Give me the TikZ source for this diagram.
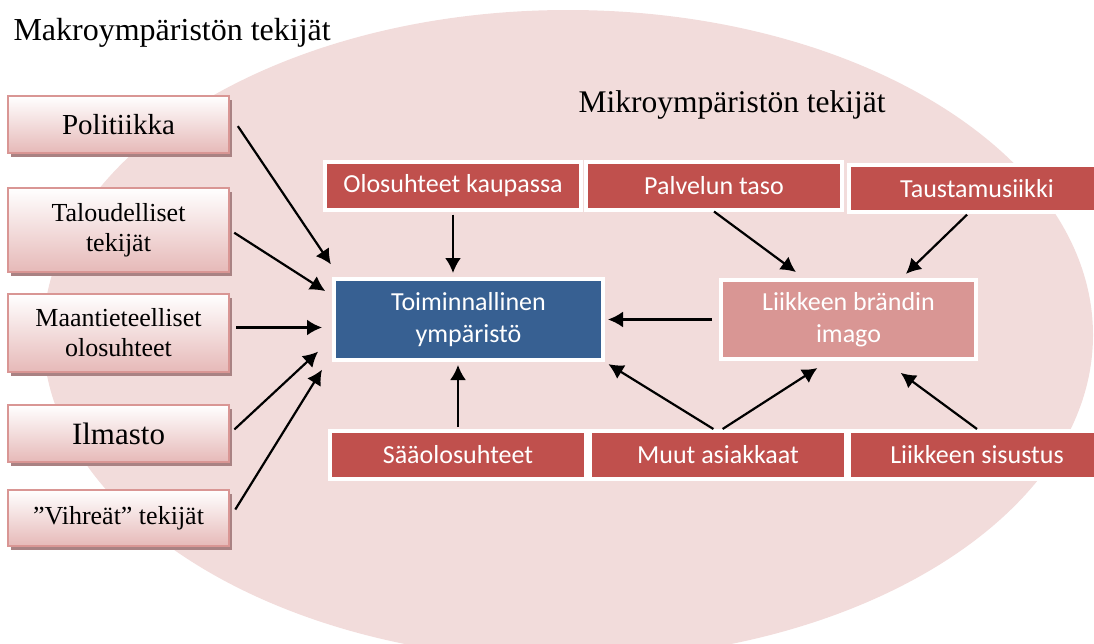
\documentclass[tikz,border=0pt]{standalone}
\usepackage{fontspec}
\setmainfont{Liberation Serif}
\newfontfamily\calibri{Carlito}
\usetikzlibrary{arrows.meta,shadows}
\definecolor{ellipsepink}{HTML}{F2DCDB}
\definecolor{boxred}{HTML}{C0504D}
\definecolor{boxblue}{HTML}{376092}
\definecolor{boxrose}{HTML}{D99694}
\definecolor{makroedge}{HTML}{D99694}
\definecolor{makrobottom}{HTML}{E6B9B8}
\definecolor{makroshadow}{HTML}{A98283}
\tikzset{
  >={Latex[length=15pt,width=16pt]},
}
\tikzstyle{link}=[line width=2.2pt,->]
\tikzstyle{makrobox}=[draw=makroedge,line width=2pt,top color=white,bottom color=makrobottom,
  minimum width=221pt,align=center,font=\fontsize{26pt}{30pt}\selectfont,
  drop shadow={shadow xshift=3pt,shadow yshift=-4pt,fill=makroshadow,opacity=1}]
\tikzstyle{mikrobox}=[draw=white,line width=4pt,fill=boxred,text=white,align=center,
  minimum width=256pt,minimum height=48pt,font=\calibri\fontsize{26pt}{32pt}\selectfont]

\begin{document}
\begin{tikzpicture}[x=1pt,y=-1pt]
    \useasboundingbox (0,0) rectangle (1094,643);
    \fill[ellipsepink] (568,335) ellipse [x radius=525, y radius=325];
    \node[anchor=base west,font=\fontsize{32pt}{36pt}\selectfont] (makro) at (10,40) {Makroympäristön tekijät};
    \node[anchor=base west,font=\fontsize{31.5pt}{36pt}\selectfont] (mikro) at (575,112) {Mikroympäristön tekijät};
    % makro
    \node[makrobox,minimum height=57pt,font=\fontsize{29pt}{32pt}\selectfont] (pol) at (118.5,124.5) {Politiikka};
    \node[makrobox,minimum height=84pt] (tal) at (118.5,230) {Taloudelliset\\tekijät};
    \node[makrobox,minimum height=78pt] (maa) at (118.5,333) {Maantieteelliset\\olosuhteet};
    \node[makrobox,minimum height=57pt,font=\fontsize{31pt}{34pt}\selectfont] (ilm) at (118.5,433.5) {Ilmasto};
    \node[makrobox,minimum height=56pt] (vih) at (118.5,518) {”Vihreät” tekijät};
    % mikro
    \node[mikrobox] (olo) at (453,185.5) {Olosuhteet kaupassa};
    \node[mikrobox] (palv) at (714,185.5) {Palvelun taso};
    \node[mikrobox,minimum height=47pt] (taus) at (977,188.5) {Taustamusiikki};
    \node[mikrobox,fill=boxblue,minimum width=269pt,minimum height=81pt] (toim) at (468.5,319.5) {Toiminnallinen\\ympäristö};
    \node[mikrobox,fill=boxrose,minimum width=255pt,minimum height=79pt] (liik) at (848.5,319.5) {Liikkeen brändin\\imago};
    \node[mikrobox] (saa) at (458,455) {Sääolosuhteet};
    \node[mikrobox] (muut) at (718,455) {Muut asiakkaat};
    \node[mikrobox] (sis) at (977,455) {Liikkeen sisustus};
    % arrows
    \draw[link,shorten <=14pt,shorten >=2pt] ([yshift=10pt]pol.east) -- ([yshift=11pt]toim.north west);
    \draw[link,shorten <=5pt,shorten >=8pt] (tal.east) -- (toim.170);
    \coordinate (maain) at ([yshift=-8pt]toim.west);
    \draw[link,shorten <=6pt,shorten >=10pt] (maa.east |- maain) -- (maain);
    \draw[link,shorten <=6pt,shorten >=19pt] (ilm.east) -- (toim.188);
    \draw[link,shorten <=10pt,shorten >=19pt] (vih.east) -- (toim.194);
    \draw[link,shorten <=3pt,shorten >=4pt] (olo.south) -- (olo.south |- toim.north);
    \draw[link,shorten >=10pt] (palv.south) -- (liik.137);
    \draw[link,shorten <=1pt,shorten >=6pt] (taus.250) -- (liik.38);
    \draw[link,shorten <=7pt,shorten >=3pt] (liik.west) -- (toim.east);
    \draw[link,shorten <=2pt,shorten >=3pt] (saa.north) -- (saa.north |- toim.south);
    \draw[link,shorten >=4pt] (muut.100) -- (toim.south east);
    \draw[link,shorten >=13pt] (muut.80) -- (liik.244);
    \draw[link,shorten >=20pt] (sis.north) -- (liik.311);
\end{tikzpicture}
\end{document}
